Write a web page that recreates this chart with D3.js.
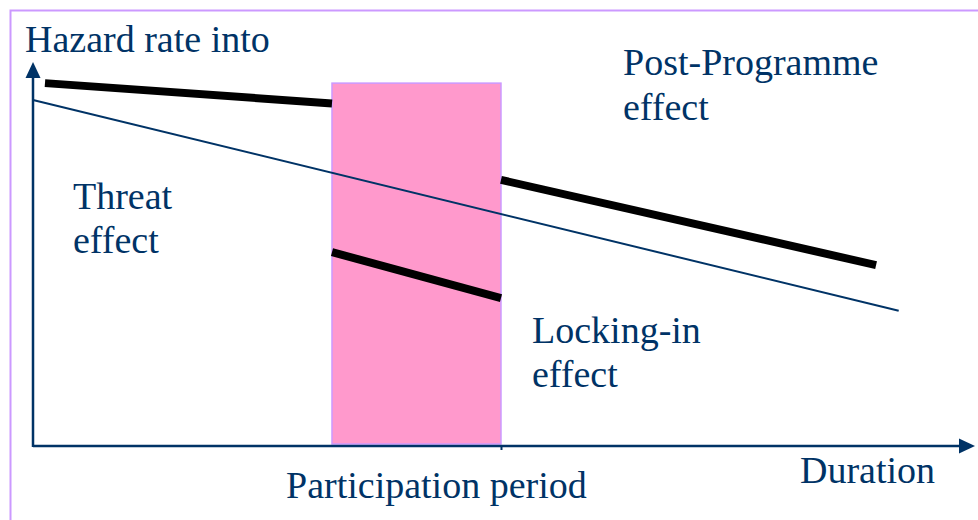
<!DOCTYPE html>
<html>
<head>
<meta charset="utf-8">
<script src="https://cdn.jsdelivr.net/npm/d3@7"></script>
<style>
  html, body { margin: 0; padding: 0; background: #fff; }
  svg { display: block; }
  text { font-family: "Liberation Serif", "Times New Roman", serif; fill: #003366; }
</style>
</head>
<body>
<svg id="chart" width="978" height="520"></svg>
<script>
// ---- data (duration on x, hazard rate on y, both in arbitrary 0-100 units) ----
const participationPeriod = [31.74, 49.68];   // start, end of programme participation
const participationTop = 94.5;
const baselineHazard = [ {x: 0, y: 90.1}, {x: 91.9, y: 35.2} ];
const preProgramme   = [ {x: 1.27, y: 94.5}, {x: 31.74, y: 89.2} ];
const lockingIn      = [ {x: 31.74, y: 50.5}, {x: 49.68, y: 38.5} ];
const postProgramme  = [ {x: 49.68, y: 69.3}, {x: 89.5, y: 47.1} ];
const yAxisTitle = "Hazard rate into";
const xAxisTitle = "Duration";
const periodLabel = "Participation period";
const threatLabel = ["Threat", "effect"];
const postLabel = ["Post-Programme", "effect"];
const lockLabel = ["Locking-in", "effect"];

const svg = d3.select("#chart");
const W = 978, H = 520;
const navy = "#003366";

const x = d3.scaleLinear().domain([0, 100]).range([33, 975]);
const y = d3.scaleLinear().domain([0, 100]).range([446, 62]);

// outer slide frame
svg.append("rect").attr("x", 10.5).attr("y", 10.5).attr("width", 1000).attr("height", 600)
  .attr("fill", "none").attr("stroke", "#CC99FF").attr("stroke-width", 2);

// participation period box
svg.append("rect")
  .attr("x", x(participationPeriod[0])).attr("y", y(participationTop))
  .attr("width", x(participationPeriod[1]) - x(participationPeriod[0]))
  .attr("height", y(0) - y(participationTop) - 2)
  .attr("fill", "#FF99CC").attr("stroke", "#CC99FF").attr("stroke-width", 1.5);

const line = d3.line().x(d => x(d.x)).y(d => y(d.y));

// baseline hazard (thin)
svg.append("path").datum(baselineHazard).attr("d", line)
  .attr("fill", "none").attr("stroke", navy).attr("stroke-width", 2);

// thick hazard segments
[preProgramme, lockingIn, postProgramme].forEach(seg => {
  svg.append("path").datum(seg).attr("d", line)
    .attr("fill", "none").attr("stroke", "#000").attr("stroke-width", 8)
    .attr("stroke-linecap", "butt");
});

// x axis with a single tick at the end of participation
const xAxis = d3.axisBottom(x).tickValues([participationPeriod[1]]).tickFormat("").tickSize(4).tickSizeOuter(0);
const gx = svg.append("g").attr("transform", `translate(0,${y(0)})`).call(xAxis);
gx.select(".domain").attr("stroke", navy).attr("stroke-width", 2.5).attr("d", `M${x(0)},0H${x(100) - 12}`);
gx.selectAll(".tick line").attr("stroke", navy).attr("stroke-width", 2);
svg.append("path")
  .attr("d", `M${x(100)},${y(0)} l-16,-7.5 l0,15 Z`).attr("fill", navy);

// y axis
const yAxis = d3.axisLeft(y).tickValues([]).tickSizeOuter(0);
const gy = svg.append("g").attr("transform", `translate(${x(0)},0)`).call(yAxis);
gy.select(".domain").attr("stroke", navy).attr("stroke-width", 2.5).attr("d", `M0,${y(0) + 1}V${y(100) + 12}`);
svg.append("path")
  .attr("d", `M${x(0)},${y(100)} l-7.5,16 l15,0 Z`).attr("fill", navy);

// text
const fs = 38;
svg.append("clipPath").attr("id", "titleclip")
  .append("rect").attr("x", 0).attr("y", 0).attr("width", W).attr("height", 52);
svg.append("text").attr("x", 25).attr("y", 52).attr("font-size", fs)
  .attr("clip-path", "url(#titleclip)").text(yAxisTitle);

function multi(lines, px, py, lh) {
  const t = svg.append("text").attr("x", px).attr("y", py).attr("font-size", fs);
  lines.forEach((s, i) => t.append("tspan").attr("x", px).attr("y", py + i * lh).text(s));
}
multi(threatLabel, 73, 209, 44);
multi(postLabel, 623, 75, 45);
multi(lockLabel, 532, 343, 44);

svg.append("text").attr("x", 286).attr("y", 498).attr("font-size", fs).text(periodLabel);
svg.append("text").attr("x", 800).attr("y", 483).attr("font-size", fs).text(xAxisTitle);
</script>
</body>
</html>
